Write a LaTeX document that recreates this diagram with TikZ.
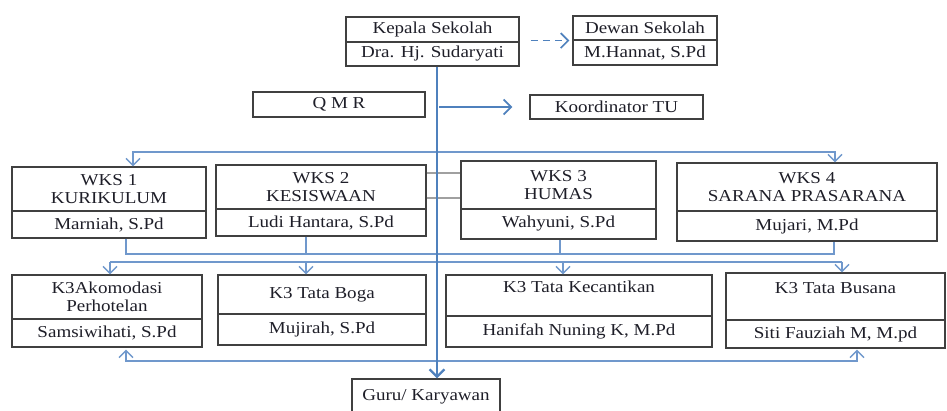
\documentclass[tikz,border=0pt]{standalone}
\usepackage{fontspec}
\setmainfont{Liberation Serif}[FakeStretch=1.14]
\usepackage{tikz}
\usetikzlibrary{arrows.meta}
\usepackage{xcolor}
\definecolor{boxline}{RGB}{64, 64, 64}
\definecolor{spineblue}{RGB}{79, 129, 189}
\definecolor{busblue}{RGB}{112, 152, 204}
\definecolor{linkgray}{RGB}{160, 160, 160}
\definecolor{textdark}{RGB}{30, 30, 40}

\begin{document}
\begin{tikzpicture}
        [x=0.02cm, y=-0.02cm,
        cell/.style 2 args = {draw=boxline, line width=0.6pt, text=textdark, inner sep=0pt, align=center,
            font=\fontsize{9.5}{10.5}\selectfont, minimum width=#1*0.02cm, minimum height=#2*0.02cm},
        high/.style = {text depth=10pt},
        spine/.style = {draw=spineblue, line width=1.3pt, -{Straight Barb[length=1.5mm, width=3mm]}},
        bus/.style = {draw=busblue, line width=0.8pt},
        tip/.style = {-{Straight Barb[length=1.4mm, width=2.8mm]}},
        twotips/.style = {{Straight Barb[length=1.4mm, width=2.8mm]}-{Straight Barb[length=1.4mm, width=2.8mm]}},
        link/.style = {draw=linkgray, line width=1pt}]
        \useasboundingbox (0,0) rectangle (947,411);

        % top level
        \node[cell={173}{25}] (kst) at (432.5,29.5) {Kepala Sekolah};
        \node[cell={173}{24}] (ksn) at (432.5,54) {Dra. Hj. Sudaryati};
        \node[cell={144}{24}] (dwt) at (645,28) {Dewan Sekolah};
        \node[cell={144}{25}] (dwn) at (645,52.5) {M.Hannat, S.Pd};
        \node[cell={172}{25}] (qmr) at (339,104.5) {Q M R};
        \node[cell={173}{24}] (tu) at (616.5,107) {Koordinator TU};

        % wakil kepala sekolah
        \node[cell={194}{44}] (w1t) at (109,189) {WKS 1\\KURIKULUM};
        \node[cell={194}{27}] (w1n) at (109,224.5) {Marniah, S.Pd};
        \node[cell={210}{44}] (w2t) at (321,187) {WKS 2\\KESISWAAN};
        \node[cell={210}{27}] (w2n) at (321,222.5) {Ludi Hantara, S.Pd};
        \node[cell={195}{48}] (w3t) at (558.5,185) {WKS 3\\HUMAS};
        \node[cell={195}{30}] (w3n) at (558.5,224) {Wahyuni, S.Pd};
        \node[cell={260}{48}] (w4t) at (807,187) {WKS 4\\SARANA PRASARANA};
        \node[cell={260}{30}] (w4n) at (807,226) {Mujari, M.Pd};

        % ketua program keahlian
        \node[cell={190}{44}] (k1t) at (107,297) {K3Akomodasi\\Perhotelan};
        \node[cell={190}{28}] (k1n) at (107,333) {Samsiwihati, S.Pd};
        \node[cell={208}{39}] (k2t) at (322,294.5) {K3 Tata Boga};
        \node[cell={208}{31}] (k2n) at (322,329.5) {Mujirah, S.Pd};
        \node[cell={266}{41},high] (k3t) at (579,295.5) {K3 Tata Kecantikan};
        \node[cell={266}{31}] (k3n) at (579,331.5) {Hanifah Nuning K, M.Pd};
        \node[cell={219}{47},high] (k4t) at (835.5,296.5) {K3 Tata Busana};
        \node[cell={219}{28}] (k4n) at (835.5,334) {Siti Fauziah M, M.pd};

        \node[cell={148}{36}] (guru) at (426,397) {Guru/ Karyawan};

        \coordinate (sp) at (437,0);
        \coordinate (tA) at (133,152);
        \coordinate (tB) at (835,152);
        \coordinate (jA) at (126,254);
        \coordinate (jB) at (306,254);
        \coordinate (jC) at (560,254);
        \coordinate (jD) at (834,254);
        \coordinate (kA) at (110,262);
        \coordinate (kB) at (306,262);
        \coordinate (kC) at (563,262);
        \coordinate (kD) at (842,262);
        \coordinate (bA) at (126,361);
        \coordinate (bB) at (857,361);

        \draw[link] ([yshift=-11*0.02cm]w2t.east) -- ([yshift=-11*0.02cm]w2t.east -| w3t.west);
        \draw[link] ([yshift=14*0.02cm]w2t.east) -- ([yshift=14*0.02cm]w2t.east -| w3t.west);

        \draw[bus,twotips] (w1t.north -| tA) -- (tA) -- (tB) -- (w4t.north -| tB);
        \draw[bus] (w1n.south -| jA) -- (jA) -- (jD) -- (w4n.south -| jD);
        \draw[bus] (w2n.south -| jB) -- (jB);
        \draw[bus] (w3n.south -| jC) -- (jC);
        \draw[bus] (kA) -- (kD);
        \draw[bus,tip] (kA) -- (k1t.north -| kA);
        \draw[bus,tip] (kB) -- (k2t.north -| kB);
        \draw[bus,tip] (kC) -- (k3t.north -| kC);
        \draw[bus,tip] (kD) -- (k4t.north -| kD);
        \draw[bus,twotips,shorten <=2*0.02cm,shorten >=1*0.02cm] (k1n.south -| bA) -- (bA) -- (bB) -- (k4n.south -| bB);

        \draw[spine] (ksn.south -| sp) -- (guru.north -| sp);
        \draw[spine,line width=1pt,shorten <=2*0.02cm,shorten >=17*0.02cm] (tu.west -| sp) -- (tu.west);
        \draw[spine,line width=1pt,dash pattern=on 4pt off 3pt,shorten <=11*0.02cm,shorten >=3*0.02cm]
            (kst.south east |- dwt.south west) -- (dwt.south west);
    \end{tikzpicture}
\end{document}
